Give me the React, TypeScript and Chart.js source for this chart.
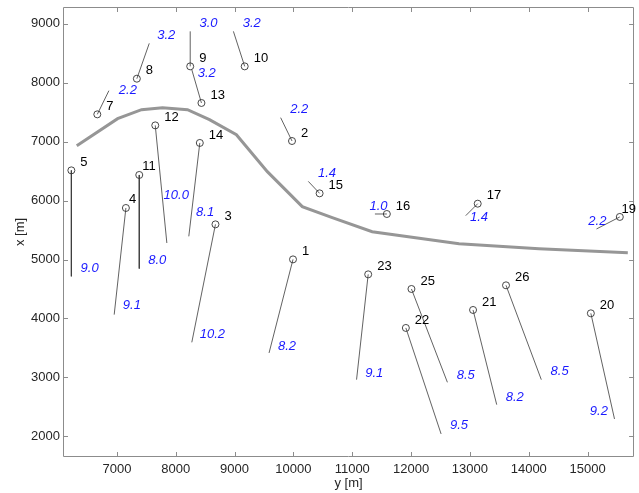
import React, { useEffect, useRef } from "react";
import { Chart, registerables } from "chart.js";

Chart.register(...registerables);

const FONT = "'Liberation Sans', Arial, Helvetica, sans-serif";

// station numbers
const stationIds = ["1", "2", "3", "4", "5", "7", "8", "9", "10", "11", "12", "13", "14", "15", "16", "17", "19", "20", "21", "22", "23", "25", "26"];
// station position, horizontal axis "y [m]"
const stationH = [9993, 9976, 8675, 7153, 6226, 6667, 7339, 8246, 9172, 7380, 7652, 8437, 8409, 10445, 11588, 13132, 15547, 15055, 13053, 11911, 11271, 12006, 13613];
// station position, vertical axis "x [m]"
const stationV = [5002, 7010, 5596, 5874, 6512, 7462, 8067, 8276, 8276, 6434, 7275, 7655, 6977, 6122, 5772, 5947, 5722, 4087, 4144, 3839, 4748, 4500, 4562];
// vector tip positions
const tipH = [9586, 9783, 8273, 6954, 6226, 6864, 7550, 8246, 8980, 7380, 7849, 8273, 8222, 10253, 11385, 12929, 15151, 15457, 13455, 12510, 11073, 12617, 14213];
const tipV = [3415, 7406, 3595, 4065, 4714, 7864, 8666, 8870, 8870, 4845, 5280, 8219, 5393, 6325, 5772, 5744, 5518, 2295, 2538, 2041, 2962, 2917, 2962];
// vector magnitude labels and their anchor
const magLabels = ["8.2", "2.2", "10.2", "9.1", "9.0", "2.2", "3.2", "3.0", "3.2", "8.0", "10.0", "3.2", "8.1", "1.4", "1.0", "1.4", "2.2", "9.2", "8.2", "9.5", "9.1", "8.5", "8.5"];
const magH = [9892, 10100, 8624, 7255, 6537, 7187, 7838, 8556, 9291, 7686, 8008, 8527, 8500, 10570, 11446, 13155, 15165, 15191, 13761, 12815, 11373, 12929, 14524];
const magV = [3527, 7541, 3725, 4217, 4845, 7869, 8802, 9012, 9012, 4980, 6083, 8164, 5806, 6468, 5901, 5722, 5647, 2424, 2669, 2182, 3076, 3035, 3103];
// gray boundary curve
const curveH = [6318, 7012, 7419, 7775, 8200, 8573, 9031, 9557, 10151, 10660, 11339, 12815, 14173, 15683];
const curveV = [6931, 7389, 7541, 7575, 7541, 7372, 7117, 6490, 5896, 5710, 5472, 5269, 5184, 5116];
// tick values
const hTicks = [7000, 8000, 9000, 10000, 11000, 12000, 13000, 14000, 15000];
const vTicks = [2000, 3000, 4000, 5000, 6000, 7000, 8000, 9000];

const H_MIN = 6084;
const H_MAX = 15790;
const V_MIN = 1650;
const V_MAX = 9283;

// station numbers whose label sits tight against the marker
const tightIds = new Set(["4", "11"]);

const overlay = {
  id: "overlay",
  afterDraw(chart: any) {
    const { ctx, chartArea: a, scales } = chart;
    const sx = scales.x;
    const sy = scales.y;
    ctx.save();
    // axes box
    ctx.strokeStyle = "#8c8c8c";
    ctx.lineWidth = 1;
    ctx.beginPath();
    ctx.rect(Math.round(a.left) + 0.5, Math.round(a.top) + 0.5, Math.round(a.right - a.left) - 1, Math.round(a.bottom - a.top) - 1);
    ctx.stroke();
    const tl = 5;
    ctx.beginPath();
    sx.ticks.forEach((t: any) => {
      const px = Math.round(sx.getPixelForValue(t.value)) + 0.5;
      ctx.moveTo(px, a.bottom);
      ctx.lineTo(px, a.bottom - tl);
      ctx.moveTo(px, a.top);
      ctx.lineTo(px, a.top + tl);
    });
    sy.ticks.forEach((t: any) => {
      const py = Math.round(sy.getPixelForValue(t.value)) + 0.5;
      ctx.moveTo(a.left, py);
      ctx.lineTo(a.left + tl, py);
      ctx.moveTo(a.right, py);
      ctx.lineTo(a.right - tl, py);
    });
    ctx.stroke();

    // station number labels
    ctx.font = `13px ${FONT}`;
    ctx.fillStyle = "#000";
    ctx.textBaseline = "middle";
    ctx.textAlign = "left";
    stationIds.forEach((id, i) => {
      const cx = sx.getPixelForValue(stationH[i]);
      const cy = sy.getPixelForValue(stationV[i]);
      const w = ctx.measureText(id).width;
      const tight = tightIds.has(id);
      let lx = cx + (tight ? 3 : 9);
      if (lx + w > chart.width - 2) lx = chart.width - 3 - w;
      ctx.fillText(id, lx, cy - (tight ? 8.5 : 8));
    });

    // magnitude labels
    ctx.font = `italic 13px ${FONT}`;
    ctx.fillStyle = "#1a1aff";
    ctx.textAlign = "center";
    magLabels.forEach((m, i) => {
      ctx.fillText(m, sx.getPixelForValue(magH[i]), sy.getPixelForValue(magV[i]));
    });
    ctx.restore();
  },
};

export default function App() {
  const ref = useRef<HTMLCanvasElement | null>(null);
  useEffect(() => {
    document.body.style.margin = "0";
    const canvas = ref.current;
    if (!canvas) return;

    const vectorSets = stationIds.map((_, i) => ({
      data: [
        { x: stationH[i], y: stationV[i] },
        { x: tipH[i], y: tipV[i] },
      ],
      showLine: true,
      borderColor: "#3a3a3a",
      borderWidth: 0.8,
      pointRadius: 0,
      order: 2,
    }));

    const chart = new Chart(canvas, {
      type: "scatter",
      data: {
        datasets: [
          {
            data: curveH.map((h, i) => ({ x: h, y: curveV[i] })),
            showLine: true,
            borderColor: "#969696",
            borderWidth: 3,
            pointRadius: 0,
            order: 3,
          },
          ...vectorSets,
          {
            data: stationH.map((h, i) => ({ x: h, y: stationV[i] })),
            showLine: false,
            pointStyle: "circle",
            pointRadius: 3.5,
            borderColor: "#333333",
            borderWidth: 0.9,
            backgroundColor: "rgba(0,0,0,0)",
            order: 1,
          },
        ] as any,
      },
      options: {
        responsive: false,
        animation: false,
        devicePixelRatio: 1,
        layout: { padding: { top: 7, right: 3, left: 0, bottom: 0 } },
        plugins: { legend: { display: false }, tooltip: { enabled: false } },
        scales: {
          x: {
            type: "linear",
            position: "bottom",
            min: H_MIN,
            max: H_MAX,
            grid: { display: false, drawTicks: false, tickLength: 0 },
            border: { display: false },
            afterBuildTicks: (s: any) => {
              s.ticks = hTicks.map((v) => ({ value: v }));
            },
            ticks: {
              maxRotation: 0,
              autoSkip: false,
              padding: 5,
              color: "#262626",
              font: { size: 13, family: FONT },
              callback: (v: any) => String(v),
            },
            title: {
              display: true,
              text: "y [m]",
              color: "#262626",
              font: { size: 13, family: FONT },
              padding: { top: 0, bottom: 2 },
            },
            afterFit: (s: any) => {
              s.height = 36;
              s.paddingLeft = 0;
              s.paddingRight = 0;
            },
          },
          y: {
            type: "linear",
            position: "left",
            min: V_MIN,
            max: V_MAX,
            grid: { display: false, drawTicks: false, tickLength: 0 },
            border: { display: false },
            afterBuildTicks: (s: any) => {
              s.ticks = vTicks.map((v) => ({ value: v }));
            },
            ticks: {
              autoSkip: false,
              padding: 3,
              color: "#262626",
              font: { size: 13, family: FONT },
              callback: (v: any) => String(v),
            },
            title: {
              display: true,
              text: "x [m]",
              color: "#262626",
              font: { size: 13, family: FONT },
              padding: { top: 13, bottom: 0 },
            },
            afterFit: (s: any) => {
              s.width = 63;
              s.paddingTop = 0;
              s.paddingBottom = 0;
            },
          },
        },
      } as any,
      plugins: [overlay],
    });
    return () => chart.destroy();
  }, []);

  return (
    <div style={{ width: 639, height: 493, background: "#fff" }}>
      <canvas ref={ref} width={639} height={493} style={{ display: "block" }} />
    </div>
  );
}
